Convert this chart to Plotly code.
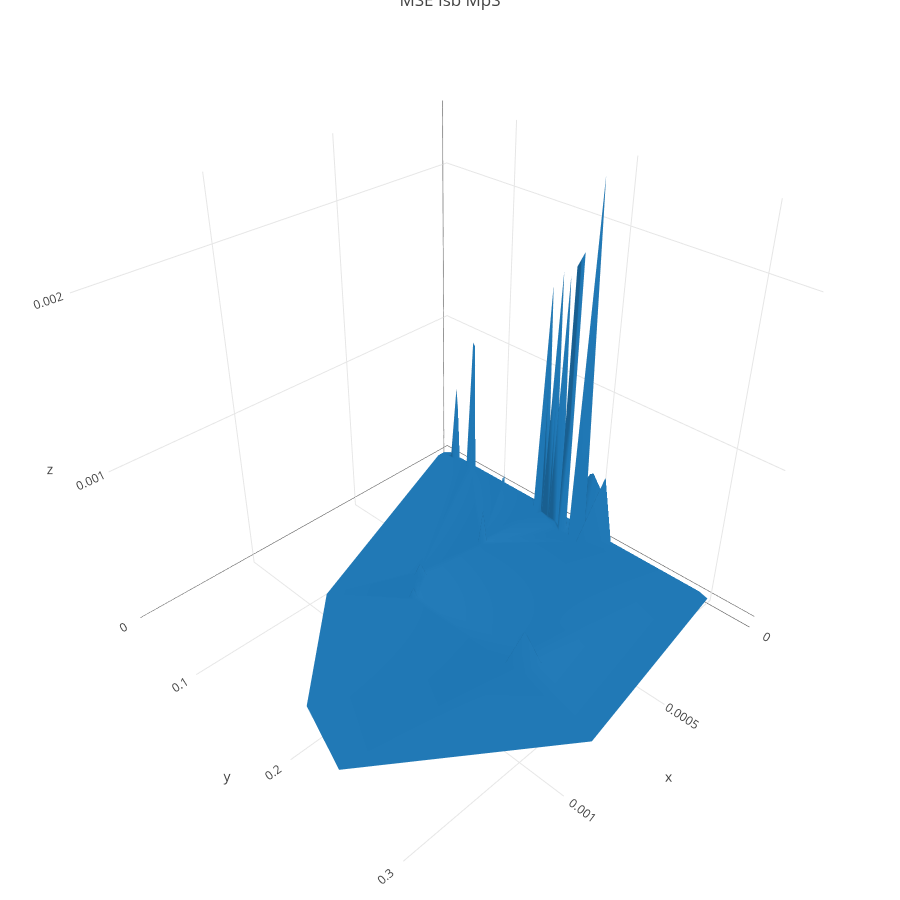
import plotly.graph_objects as go
import numpy as np
a,b,c,d,e,f,g,h=-222.7,138.0,443,29.5,44.0,456,-0.13607,-0.17349
def inv(X,Y):
    A=np.array([[a-g*X,b-h*X],[d-g*Y,e-h*Y]]);r=np.array([X-c,Y-f])
    return np.linalg.solve(A,r)
def height(u,v,tipY):
    N=d*u+e*v+f;w=g*u+h*v+1
    return (N-tipY*w)/(150-0.04*tipY)
zbase=-0.00004
P=[]
def add(X,Y,tipY=None):
    u,v=inv(X,Y)
    z=zbase if tipY is None else zbase+height(u,v,tipY)*0.001
    P.append((u*0.001,0.034+v*0.266,z))
hull=[(440,456),(452,456),(490,470),(530,492),(590,525),(632,546),(665,570),(672,580),(703,603),(591,748),(338,777),(306,711),(327,597)]
for p in hull: add(*p)
spikes=[(455,460,387,5),(470,470,338,5),(473,468,345,3),(493.5,473,237,6),(502,485,465,2),(512,485,457,3),(524,480,358,5),(527,485,373,5),(535,490,327,7),(538,510,277,7),(546,515,263,7),(552,520,267,7),(556,530,257,7),(562,530,243,7),(573,540,170,8)]
for X,Y,t,r in spikes:
    add(X,Y,t)
    for dx,dy in [(-r,0),(r,0),(0,-0.7*r),(0,0.7*r)]:
        add(X+dx,Y+dy)
add(587,530,436); add(607,537,441)
for X,Y,t,r in [(522,668,630,18),(481,545,510,4),(420,578,565,6),(413,600,590,4)]:
    add(X,Y,t)
    for dx,dy in [(-r,0),(r,0),(0,-0.7*r),(0,0.7*r)]:
        add(X+dx,Y+dy)
P=np.array(P)
fig = go.Figure(go.Mesh3d(x=P[:,0], y=P[:,1], z=P[:,2], color="#1f77b4"))
axis = dict(gridcolor="#e6e6e6", zerolinecolor="#444", showline=False, showbackground=False, ticks="", tickfont=dict(size=12, color="#444"))
fig.update_layout(
    width=900, height=900, margin=dict(l=0, r=0, t=0, b=0),
    title=dict(text="MSE Isb MpS", x=0.5, xanchor="center", y=1.0, yanchor="middle", font=dict(family="Open Sans", size=17, color="#444")),
    font=dict(family="Open Sans", color="#444"),
    scene=dict(
        xaxis=dict(axis, title="x", range=[-0.00002, 0.00148], tickvals=[0, 0.0005, 0.001], ticktext=["0", "0.0005", "0.001"]),
        yaxis=dict(axis, title="y", range=[0.034, 0.335], tickvals=[0.1, 0.2, 0.3]),
        zaxis=dict(axis, title="z", range=[-0.00006, 0.00237], tickvals=[0, 0.001, 0.002], ticktext=["0", "0.001", "0.002"]),
        aspectmode="cube",
        camera=dict(eye=dict(x=1.31, y=1.31, z=1.25), center=dict(x=-0.004,y=0.004,z=-0.01)),
    ),
)
fig.write_html("out.html", post_script="document.body.style.margin='0';", config={"displayModeBar":False})
